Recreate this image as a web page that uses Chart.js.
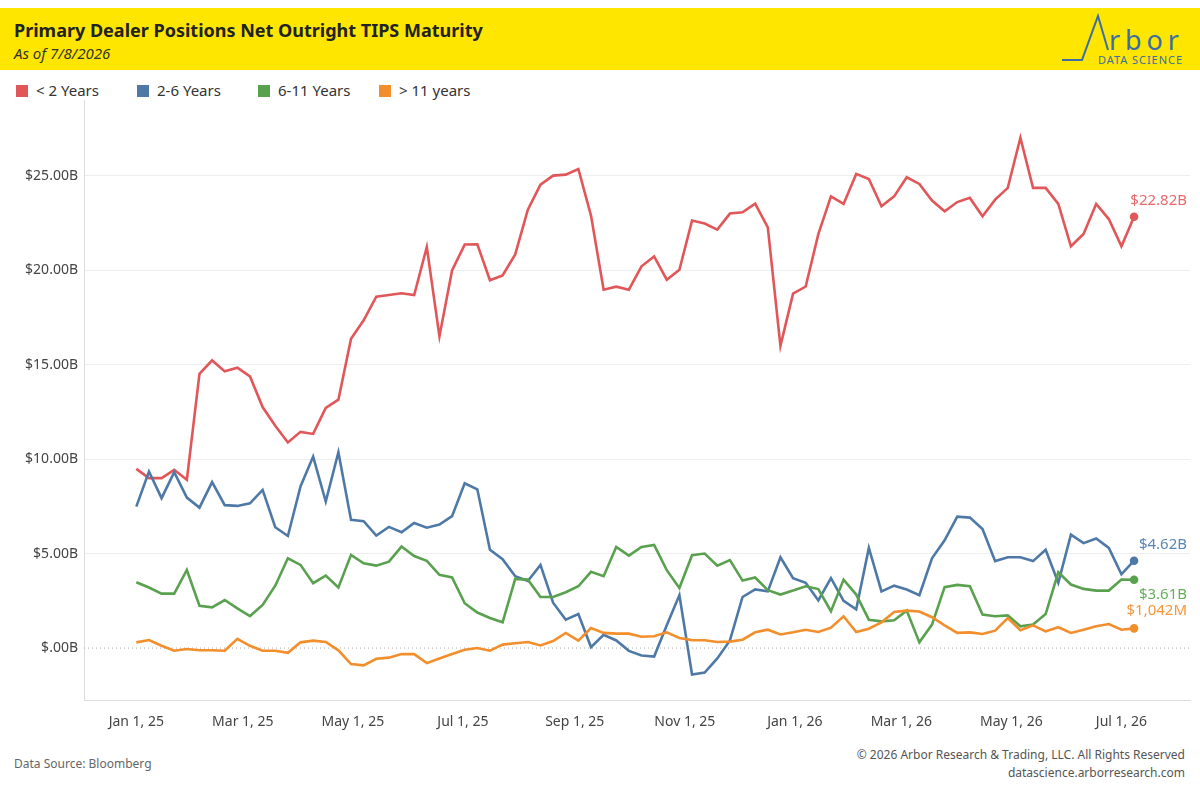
<!DOCTYPE html>
<html>
<head>
<meta charset="utf-8">
<script src="https://cdn.jsdelivr.net/npm/chart.js@4.4.1/dist/chart.umd.min.js"></script>
<style>
  body { margin: 0; width: 1200px; height: 800px; background: #fff; font-family: "Noto Sans", "Open Sans", sans-serif; position: relative; overflow: hidden; }
  #band { position: absolute; left: 0; top: 8px; width: 1200px; height: 62px; background: #FFE600; }
  #title { position: absolute; left: 14px; top: 18px; font-size: 18px; font-weight: bold; color: #222; }
  #sub { position: absolute; left: 14px; top: 43px; font-size: 15px; font-style: italic; color: #333; }
  #legend { position: absolute; left: 16px; top: 80px; font-size: 15px; color: #333; }
  #legend span { position: absolute; white-space: nowrap; top: 0; }
  #legend i { display: inline-block; width: 12px; height: 12px; margin-right: 8px; vertical-align: -1px; }
  #src { position: absolute; left: 14px; top: 755px; font-size: 12px; color: #666; }
  #copy { position: absolute; right: 15px; top: 746px; font-size: 12px; color: #555; text-align: right; line-height: 18px; }
  canvas { position: absolute; left: 0; top: 0; }
</style>
</head>
<body>
<div id="band"></div>
<div id="title">Primary Dealer Positions Net Outright TIPS Maturity</div>
<div id="sub">As of 7/8/2026</div>
<svg style="position:absolute;left:1050px;top:8px" width="150" height="62">
  <polyline points="12,52 32,52 48,8 58,42" fill="none" stroke="#3A6EA5" stroke-width="2"/>
  <text x="59" y="42" font-family="Noto Sans" font-size="27" fill="#3A6EA5" textLength="70">rbor</text>
  <text x="48" y="56" font-family="Noto Sans" font-size="11" fill="#3A6EA5" textLength="84">DATA SCIENCE</text>
</svg>
<div id="legend">
  <span style="left:0"><i style="background:#E15759"></i>&lt; 2 Years</span>
  <span style="left:121px"><i style="background:#4E79A7"></i>2-6 Years</span>
  <span style="left:242px"><i style="background:#59A14F"></i>6-11 Years</span>
  <span style="left:363px"><i style="background:#F28E2B"></i>&gt; 11 years</span>
</div>
<div id="src">Data Source: Bloomberg</div>
<div id="copy">© 2026 Arbor Research &amp; Trading, LLC. All Rights Reserved<br>datascience.arborresearch.com</div>
<canvas id="c" width="1200" height="800"></canvas>
<script>
// weekly observations, Jan 1 2025 .. Jul 8 2026 (values in $B)
const under2 = [9.48, 8.99, 8.99, 9.43, 8.90, 14.51, 15.22, 14.64, 14.83, 14.37,
  12.75, 11.76, 10.88, 11.44, 11.33, 12.71, 13.14, 16.37, 17.34, 18.59,
  18.68, 18.77, 18.68, 21.22, 16.49, 19.98, 21.35, 21.36, 19.46, 19.72,
  20.83, 23.2, 24.52, 25.0, 25.05, 25.35, 22.88, 18.96, 19.12, 18.96,
  20.2, 20.72, 19.49, 20.02, 22.62, 22.46, 22.14, 22.99, 23.06, 23.52,
  22.26, 15.99, 18.75, 19.13, 21.9, 23.9, 23.5, 25.09, 24.82, 23.38,
  23.9, 24.91, 24.56, 23.68, 23.11, 23.6, 23.82, 22.85, 23.73, 24.35,
  27.0, 24.35, 24.35, 23.5, 21.26, 21.91, 23.5, 22.7, 21.26, 22.82];
const y2to6 = [7.48, 9.34, 7.93, 9.31, 7.96, 7.43, 8.78, 7.56, 7.52, 7.66,
  8.37, 6.39, 5.93, 8.55, 10.13, 7.75, 10.36, 6.78, 6.71, 5.95,
  6.41, 6.13, 6.62, 6.37, 6.53, 6.98, 8.72, 8.4, 5.2, 4.7,
  3.8, 3.55, 4.4, 2.4, 1.5, 1.8, 0.05, 0.7, 0.4, -0.15,
  -0.4, -0.45, 1.2, 2.8, -1.4, -1.3, -0.55, 0.4, 2.7, 3.1,
  3.0, 4.8, 3.7, 3.45, 2.52, 3.7, 2.5, 2.05, 5.3, 3.0,
  3.3, 3.1, 2.8, 4.75, 5.7, 6.95, 6.9, 6.3, 4.6, 4.8,
  4.8, 4.6, 5.2, 3.45, 6.0, 5.55, 5.8, 5.3, 3.9, 4.62];
const y6to11 = [3.48, 3.20, 2.88, 2.88, 4.13, 2.24, 2.15, 2.54, 2.10, 1.69,
  2.28, 3.30, 4.75, 4.40, 3.43, 3.83, 3.20, 4.93, 4.48, 4.36,
  4.57, 5.37, 4.87, 4.61, 3.87, 3.74, 2.37, 1.88, 1.59, 1.36,
  3.66, 3.62, 2.70, 2.70, 2.95, 3.27, 4.03, 3.80, 5.35, 4.89,
  5.35, 5.46, 4.12, 3.18, 4.91, 5.0, 4.36, 4.65, 3.57, 3.73,
  3.06, 2.83, 3.04, 3.27, 3.12, 1.95, 3.62, 2.83, 1.50, 1.41,
  1.47, 1.98, 0.30, 1.24, 3.22, 3.34, 3.27, 1.77, 1.68, 1.73,
  1.15, 1.24, 1.80, 4.01, 3.36, 3.13, 3.04, 3.04, 3.62, 3.61];
const over11 = [0.30, 0.42, 0.12, -0.14, -0.05, -0.12, -0.12, -0.14, 0.49, 0.12,
  -0.14, -0.14, -0.25, 0.30, 0.39, 0.32, -0.12, -0.85, -0.92, -0.57,
  -0.51, -0.32, -0.32, -0.80, -0.55, -0.32, -0.09, 0.0, -0.14, 0.18,
  0.25, 0.32, 0.14, 0.37, 0.80, 0.39, 1.06, 0.80, 0.76, 0.76,
  0.60, 0.62, 0.83, 0.53, 0.42, 0.41, 0.32, 0.34, 0.44, 0.83,
  0.97, 0.72, 0.83, 0.97, 0.85, 1.08, 1.68, 0.85, 1.02, 1.36,
  1.91, 1.98, 1.93, 1.63, 1.20, 0.80, 0.83, 0.74, 0.92, 1.59,
  0.94, 1.20, 0.88, 1.10, 0.80, 0.97, 1.15, 1.27, 0.97, 1.042];
const endLabels = ["$22.82B", "$4.62B", "$3.61B", "$1,042M"];
// x ticks: days since Jan 1 2025
const tickDays = [0, 59, 120, 181, 243, 304, 365, 424, 485, 546];
const tickLabels = ["Jan 1, 25", "Mar 1, 25", "May 1, 25", "Jul 1, 25", "Sep 1, 25", "Nov 1, 25",
  "Jan 1, 26", "Mar 1, 26", "May 1, 26", "Jul 1, 26"];
const yTicks = [0, 5, 10, 15, 20, 25];

const colors = ["#E15759", "#4E79A7", "#59A14F", "#F28E2B"];
const labelColors = ["#E8696B", "#5A86B5", "#66AE5A", "#F5963A"];
const series = [under2, y2to6, y6to11, over11];

function toPoints(arr) {
    return arr.map((v, i) => ({ x: i * 7, y: v }));
}

const endLabelPlugin = {
    id: "endLabels",
    beforeDatasetsDraw(chart) {
        const ctx = chart.ctx, y = chart.scales.y, a = chart.chartArea;
        const py = y.getPixelForValue(0);
        ctx.save();
        ctx.strokeStyle = "#aaa";
        ctx.lineWidth = 1;
        ctx.setLineDash([1, 3]);
        ctx.beginPath();
        ctx.moveTo(a.left, py);
        ctx.lineTo(a.right, py);
        ctx.stroke();
        ctx.restore();
    },
    afterDatasetsDraw(chart) {
        const ctx = chart.ctx;
        const offsets = [-16, -16, 15, -18];
        ctx.save();
        ctx.font = "15px 'Noto Sans'";
        ctx.textAlign = "right";
        ctx.textBaseline = "middle";
        chart.data.datasets.forEach((ds, k) => {
            const el = chart.getDatasetMeta(k).data[ds.data.length - 1];
            ctx.fillStyle = labelColors[k];
            ctx.fillText(endLabels[k], 1187, el.y + offsets[k]);
        });
        ctx.restore();
    }
};

new Chart(document.getElementById("c"), {
    type: "line",
    data: {
        datasets: series.map((s, k) => ({
            data: toPoints(s),
            borderColor: colors[k],
            backgroundColor: colors[k],
            borderWidth: 2.6,
            tension: 0,
            pointRadius: s.map((v, i) => i === s.length - 1 ? 3 : 0),
            order: 3 - k
        }))
    },
    options: {
        responsive: false,
        animation: false,
        layout: { padding: { top: 100, bottom: 60, right: 10, left: 0 } },
        plugins: { legend: { display: false }, tooltip: { enabled: false } },
        scales: {
            x: {
                type: "linear", min: -29, max: 584,
                afterBuildTicks: s => { s.ticks = tickDays.map(v => ({ value: v })); },
                afterFit: s => { s.height = 40; },
                ticks: {
                    callback: v => tickLabels[tickDays.indexOf(v)],
                    color: "#444", font: { size: 14, family: "Noto Sans" }, maxRotation: 0, padding: 6
                },
                grid: { display: false },
                border: { display: true, color: "#ddd" }
            },
            y: {
                min: -2.75, max: 29,
                afterBuildTicks: s => { s.ticks = yTicks.map(v => ({ value: v })); },
                afterFit: s => { s.width = 84; },
                ticks: {
                    callback: v => v === 0 ? "$.00B" : "$" + v.toFixed(2) + "B",
                    color: "#444", font: { size: 14, family: "Noto Sans" }, padding: 6
                },
                grid: { color: c => c.tick && c.tick.value === 0 ? "rgba(0,0,0,0)" : "#eeeeee", drawTicks: false },
                border: { display: true, color: "#ddd" }
            }
        }
    },
    plugins: [endLabelPlugin]
});
</script>
</body>
</html>
